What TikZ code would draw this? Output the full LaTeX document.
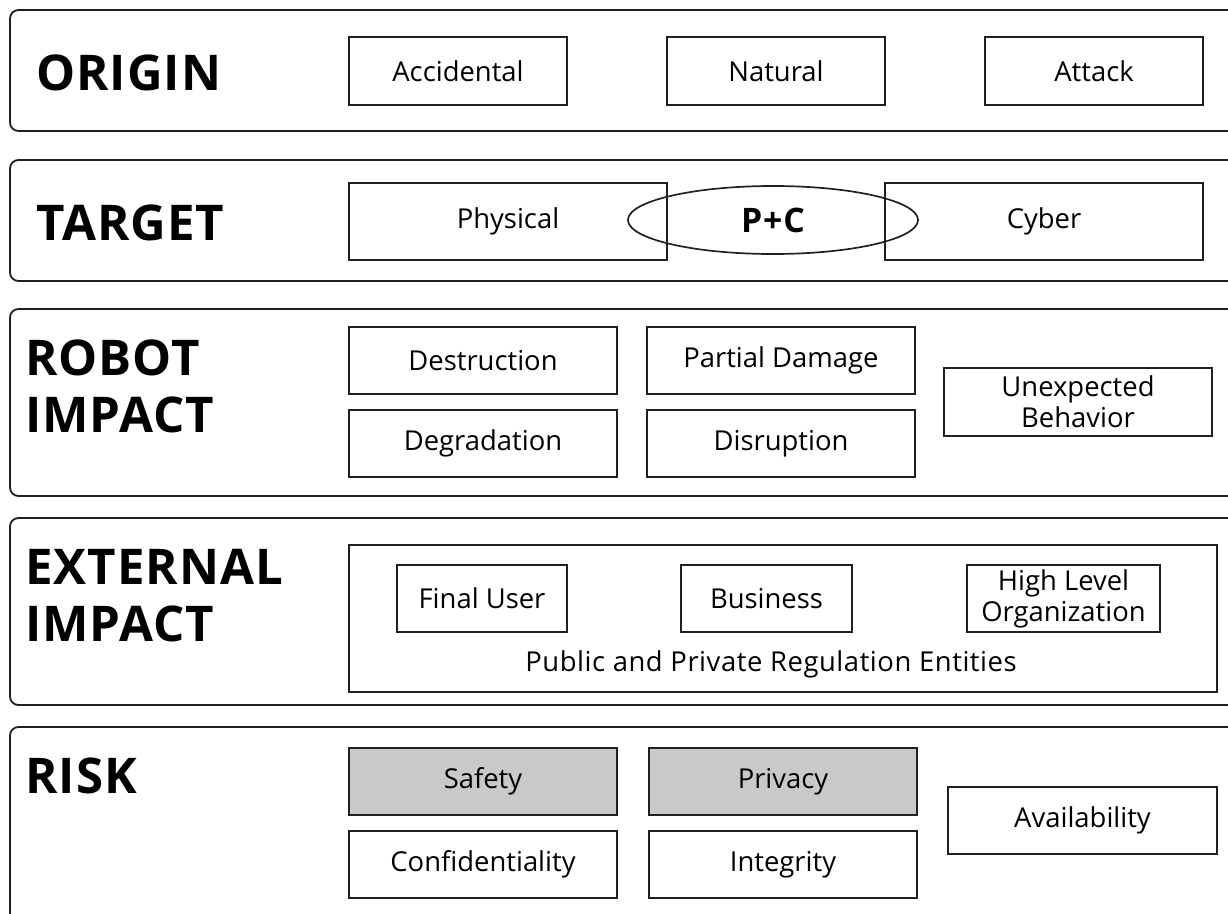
\documentclass[tikz,border=0pt]{standalone}
\usepackage{fontspec}
\setmainfont{Open Sans}
\usetikzlibrary{shapes,positioning}
\definecolor{framegray}{RGB}{35,31,32}
\definecolor{riskgray}{RGB}{200,201,202}

\begin{document}
\begin{tikzpicture}[x=0.025cm, y=-0.025cm,
    panel/.style={draw=framegray, line width=1.3pt, rounded corners=6pt},
    item/.style={draw=framegray, line width=1.2pt, fill=white, inner sep=0pt, align=center,
        font=\fontsize{19.5}{22}\selectfont, minimum width=6.7cm, minimum height=1.675cm},
    head/.style={font=\fontsize{35}{40.5}\selectfont\bfseries\addfontfeature{LetterSpace=2},
        anchor=base west, inner sep=0pt, align=left}]
    \useasboundingbox (0,0) rectangle (1228,913);
    \clip (0,0) rectangle (1228,913);

    % layers
    \draw[panel] (10,10) rectangle (1260,131);
    \draw[panel] (10,160) rectangle (1260,281);
    \draw[panel] (10,309) rectangle (1260,496);
    \draw[panel] (10,518) rectangle (1260,705);
    \draw[panel] (10,727) rectangle (1260,940);

    \node[head] (origin) at (36,90) {ORIGIN};
    \node[head] (target) at (36,240) {TARGET};
    \node[head] (robot) at (25,432) {ROBOT\\IMPACT};
    \node[head] (external) at (25,641) {EXTERNAL\\IMPACT};
    \node[head] (risk) at (25,793) {RISK};

    % origin
    \node[item, minimum width=5.45cm, minimum height=1.7cm] (accidental) at (458,71) {Accidental};
    \node[item, minimum width=5.45cm, minimum height=1.7cm] (natural) at (776,71) {Natural};
    \node[item, minimum width=5.45cm, minimum height=1.7cm] (attack) at (1094,71) {Attack};

    % target
    \node[item, minimum width=7.95cm, minimum height=1.925cm] (physical) at (508,221.5) {Physical};
    \node[item, minimum width=7.95cm, minimum height=1.925cm] (cyber) at (1044,221.5) {Cyber};
    \node[ellipse, draw=framegray, line width=1.2pt, inner sep=0pt, minimum width=7.25cm, minimum height=1.7cm,
        font=\fontsize{24}{26}\selectfont\bfseries\addfontfeature{LetterSpace=3}] (pc) at (773,220) {P+C};

    % robot impact
    \node[item] (destruction) at (483,360.5) {Destruction};
    \node[item] (partial) at (781,360.5) {Partial Damage};
    \node[item] (degradation) at (483,443.5) {Degradation};
    \node[item] (disruption) at (781,443.5) {Disruption};
    \node[item, minimum height=1.7cm] (unexpected) at (1078,402) {Unexpected\\Behavior};

    % external impact
    \node[item, minimum width=21.7cm, minimum height=3.675cm] (entities) at (783,618.5) {};
    \node[font=\fontsize{19.5}{22}\selectfont\addfontfeature{LetterSpace=2}, inner sep=0pt] (public) at (771,664) {Public and Private Regulation Entities};
    \node[item, minimum width=4.25cm] (user) at (482,598.5) {Final User};
    \node[item, minimum width=4.275cm] (business) at (766.5,598.5) {Business};
    \node[item, minimum width=4.825cm] (organization) at (1063.5,598.5) {High Level\\Organization};

    % risk
    \node[item, fill=riskgray] (safety) at (483,781.5) {Safety};
    \node[item, fill=riskgray] (privacy) at (783,781.5) {Privacy};
    \node[item] (confidentiality) at (483,864.5) {Confidentiality};
    \node[item] (integrity) at (783,864.5) {Integrity};
    \node[item, minimum width=6.725cm] (availability) at (1082.5,820.5) {Availability};
\end{tikzpicture}
\end{document}
